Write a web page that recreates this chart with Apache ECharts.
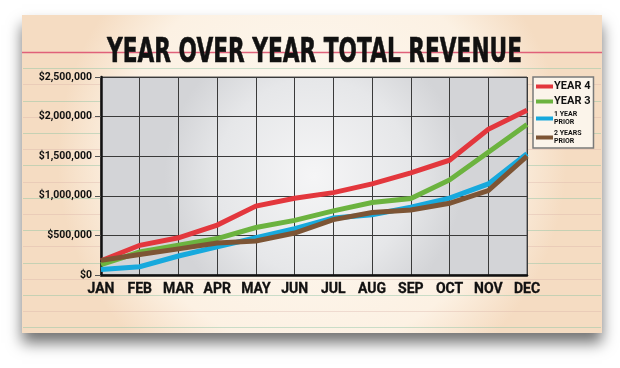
<!DOCTYPE html>
<html>
<head>
<meta charset="utf-8">
<script src="https://cdn.jsdelivr.net/npm/echarts@6/dist/echarts.min.js"></script>
<style>
html,body{margin:0;padding:0;background:#fff;}
#chart{width:620px;height:368px;}
</style>
</head>
<body>
<div id="chart"></div>
<script>
const titleText = 'YEAR OVER YEAR TOTAL REVENUE';
const months = ['JAN','FEB','MAR','APR','MAY','JUN','JUL','AUG','SEP','OCT','NOV','DEC'];
const seriesNames = ['YEAR 4','YEAR 3','1 YEAR\nPRIOR','2 YEARS\nPRIOR'];
const year4 = [180000, 375000, 470000, 630000, 870000, 970000, 1040000, 1150000, 1290000, 1450000, 1840000, 2080000];
const year3 = [130000, 290000, 375000, 460000, 600000, 690000, 810000, 915000, 965000, 1200000, 1550000, 1900000];
const year1Prior = [70000, 105000, 240000, 355000, 470000, 585000, 720000, 760000, 855000, 970000, 1150000, 1530000];
const year2Prior = [185000, 260000, 330000, 405000, 430000, 530000, 700000, 790000, 820000, 905000, 1065000, 1500000];
const colors = ['#e3373d', '#6cb33f', '#17a9dd', '#7d5535'];

const labelFont = "Roboto, 'Liberation Sans', sans-serif";
const titleFont = "'DejaVu Sans', 'Liberation Sans', sans-serif";

// condense the title horizontally to the reference width
const mctx = document.createElement('canvas').getContext('2d');
mctx.font = 'bold 33px ' + titleFont;
const titleScaleX = 415 / mctx.measureText(titleText).width;

const chart = echarts.init(document.getElementById('chart'), null, {renderer: 'canvas'});

// decorative ruled lines of the index card
const ruled = [];
for (let k = 1; k <= 17; k++) {
  const y = Math.round(52 + 16.2 * k) + 0.5;
  if (y > 330) break;
  ruled.push({
    type: 'line', z: -9, silent: true,
    shape: {x1: 23, y1: y, x2: 601, y2: y},
    style: {stroke: k % 2 ? 'rgba(140,195,165,0.45)' : 'rgba(215,175,165,0.35)', lineWidth: 1}
  });
}

const option = {
  animation: false,
  color: colors,
  graphic: [
    {
      type: 'rect', z: -10, silent: true,
      shape: {x: 22, y: 15, width: 580, height: 318},
      style: {
        fill: {type: 'radial', x: 0.5, y: 0.45, r: 0.8,
          colorStops: [{offset: 0, color: '#fdf9f2'}, {offset: 0.75, color: '#fcf1e3'}, {offset: 1, color: '#f5dcc2'}]},
        shadowBlur: 14, shadowOffsetY: 10, shadowOffsetX: 0, shadowColor: 'rgba(0,0,0,0.55)'
      }
    },
    ...ruled,
    {
      type: 'line', z: -8, silent: true,
      shape: {x1: 22, y1: 52.5, x2: 602, y2: 52.5},
      style: {stroke: '#e0607a', lineWidth: 1.5}
    },
    {
      type: 'text', z: 10, silent: true,
      x: 314.5, y: 53, scaleX: titleScaleX, scaleY: 1,
      style: {
        text: titleText, font: 'bold 33px ' + titleFont, fill: '#111',
        align: 'center', verticalAlign: 'middle',
        stroke: '#111', lineWidth: 0.6
      }
    }
  ],
  legend: {
    data: seriesNames,
    orient: 'vertical',
    left: 533,
    top: 77,
    width: 54,
    padding: [4, 3, 3, 3],
    itemGap: 4,
    itemWidth: 17,
    itemHeight: 4,
    icon: 'rect',
    backgroundColor: '#fbf4ea',
    borderColor: '#7a7a7a',
    borderWidth: 1.5,
    textStyle: {
      color: '#111',
      padding: [0, 0, 0, -4],
      rich: {
        b: {fontFamily: labelFont, fontWeight: 'bold', fontSize: 11, color: '#111', lineHeight: 14},
        s: {fontFamily: labelFont, fontWeight: 'bold', fontSize: 7, color: '#111', lineHeight: 8}
      }
    },
    formatter: function (name) {
      if (name.indexOf('PRIOR') >= 0) {
        return name.split('\n').map(l => '{s|' + l + '}').join('\n');
      }
      return '{b|' + name + '}';
    }
  },
  grid: {
    left: 101, right: 93, top: 77, bottom: 93,
    show: true,
    backgroundColor: {type: 'radial', x: 0.5, y: 0.5, r: 0.75,
      colorStops: [{offset: 0, color: '#f5f5f6'}, {offset: 0.65, color: '#e6e7e9'}, {offset: 1, color: '#d3d4d7'}]},
    borderColor: '#555', borderWidth: 1
  },
  xAxis: {
    type: 'category',
    data: months,
    boundaryGap: false,
    axisLine: {lineStyle: {color: '#111', width: 2.5}},
    axisTick: {show: false},
    axisLabel: {fontFamily: labelFont, fontWeight: 'bold', fontSize: 14, color: '#111', margin: 7, interval: 0,
      textBorderColor: '#111', textBorderWidth: 0.3},
    splitLine: {show: true, lineStyle: {color: '#3a3a3a', width: 1}}
  },
  yAxis: {
    type: 'value',
    min: 0, max: 2500000, interval: 500000,
    axisLine: {show: true, lineStyle: {color: '#111', width: 2.5}},
    axisTick: {show: true, length: 6, lineStyle: {color: '#555', width: 1}},
    axisLabel: {
      fontFamily: labelFont, fontWeight: 'bold', fontSize: 10.5, color: '#111', margin: 9,
      formatter: v => '$' + v.toLocaleString('en-US')
    },
    splitLine: {show: true, lineStyle: {color: '#3a3a3a', width: 1}}
  },
  series: [
    {name: seriesNames[0], type: 'line', data: year4},
    {name: seriesNames[1], type: 'line', data: year3},
    {name: seriesNames[2], type: 'line', data: year1Prior},
    {name: seriesNames[3], type: 'line', data: year2Prior}
  ].map(s => Object.assign(s, {symbol: 'none', lineStyle: {width: 5, join: 'miter'}}))
};
chart.setOption(option);
</script>
</body>
</html>
